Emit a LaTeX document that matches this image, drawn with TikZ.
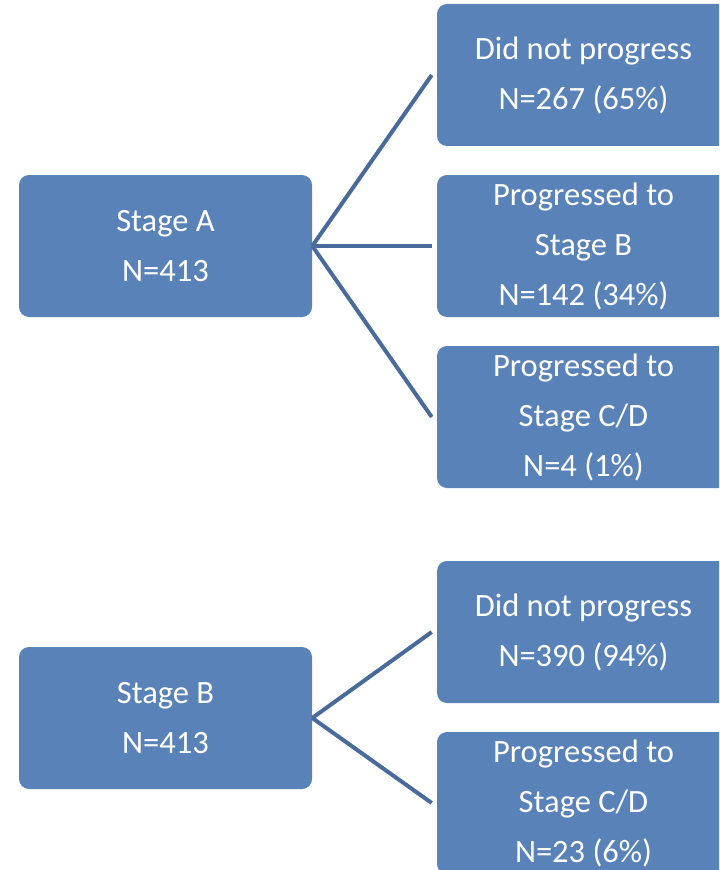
\documentclass[tikz,border=0pt]{standalone}
\usepackage{fontspec}
\setmainfont{Carlito}
\definecolor{boxfill}{RGB}{89,130,185}
\definecolor{linkcol}{RGB}{72,107,155}
\begin{document}
\begin{tikzpicture}[x=0.75pt,y=-0.75pt,
  stagebox/.style={rectangle, rounded corners=7.5pt, fill=boxfill, draw=none,
    minimum width=219.75pt, minimum height=106.5pt, inner sep=0pt,
    align=center, text=white, font=\fontsize{24.4}{37.5}\selectfont},
  link/.style={draw=linkcol, line width=3pt}]
\useasboundingbox (0,0) rectangle (719,870);
\clip (0,0) rectangle (719,870);
\node[stagebox] (A) at (165.5,246) {Stage A\\N=413};
\node[stagebox] (a1) at (583.5,75) {Did not progress\\N=267 (65\%)};
\node[stagebox] (a2) at (583.5,246) {Progressed to\\Stage B\\N=142 (34\%)};
\node[stagebox] (a3) at (583.5,417) {Progressed to\\Stage C/D\\N=4 (1\%)};
\node[stagebox] (B) at (165.5,718) {Stage B\\N=413};
\node[stagebox] (b1) at (583.5,632) {Did not progress\\N=390 (94\%)};
\node[stagebox] (b2) at (583.5,803) {Progressed to\\Stage C/D\\N=23 (6\%)};
\draw[link] (A.east) -- ([xshift=-3.75pt]a1.west);
\draw[link] (A.east) -- ([xshift=-3.75pt]a2.west);
\draw[link] (A.east) -- ([xshift=-3.75pt]a3.west);
\draw[link] (B.east) -- ([xshift=-3.75pt]b1.west);
\draw[link] (B.east) -- ([xshift=-3.75pt]b2.west);
\end{tikzpicture}
\end{document}
